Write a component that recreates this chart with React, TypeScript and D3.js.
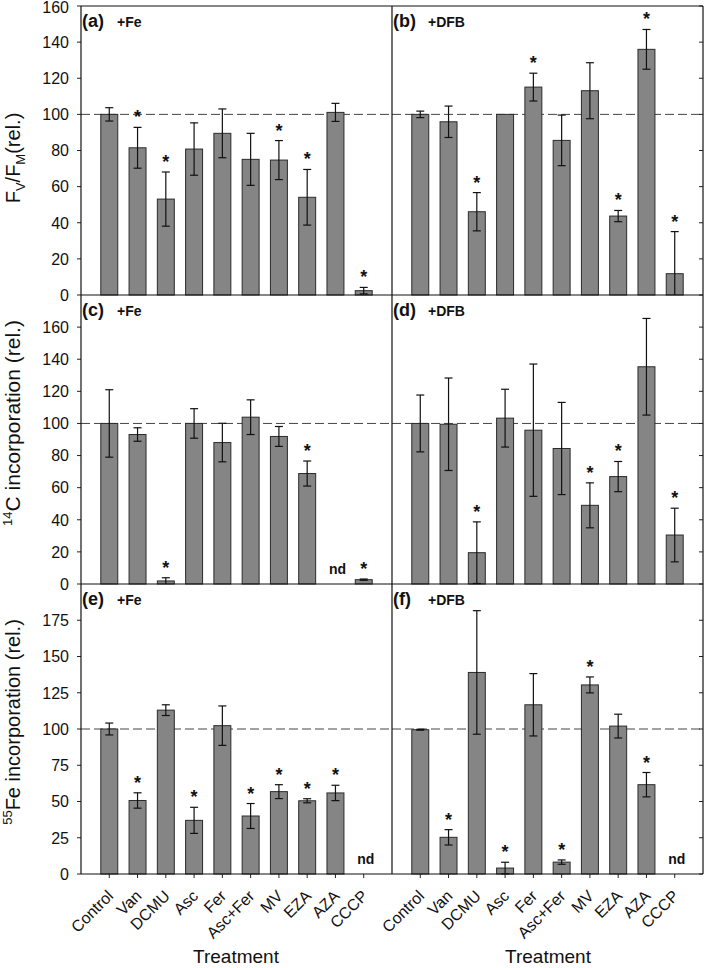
import React from "react";
import * as d3 from "d3";

const categories = ["Control", "Van", "DCMU", "Asc", "Fer", "Asc+Fer", "MV", "EZA", "AZA", "CCCP"];

// (a) Fv/Fm +Fe
const fvfmFe = [100, 81.5, 53.1, 80.8, 89.5, 75.1, 74.7, 54.1, 101.1, 2.4];
const fvfmFeErr = [3.7, 11.3, 15, 14.5, 13.5, 14.4, 10.8, 15.4, 5, 1.8];
const fvfmFeSig = [0, 1, 1, 0, 0, 0, 1, 1, 0, 1];
// (b) Fv/Fm +DFB
const fvfmDfb = [100, 95.9, 46.1, 100, 115.1, 85.6, 113.1, 43.7, 136, 11.8];
const fvfmDfbErr = [1.8, 8.7, 10.6, 0, 7.7, 14, 15.5, 3.1, 11, 23.3];
const fvfmDfbSig = [0, 0, 1, 0, 1, 0, 0, 1, 1, 1];
// (c) 14C +Fe
const c14Fe = [100, 93.1, 1.9, 100, 88.1, 103.9, 91.9, 68.8, null, 2.7];
const c14FeErr = [21, 4.2, 2, 9.2, 12, 10.8, 6.2, 7.8, null, 0.4];
const c14FeSig = [0, 0, 1, 0, 0, 0, 0, 1, 0, 1];
// (d) 14C +DFB
const c14Dfb = [100, 99.5, 19.5, 103.3, 95.8, 84.4, 49, 66.9, 135.3, 30.5];
const c14DfbErr = [17.7, 28.8, 19.2, 18, 41.2, 28.7, 14, 9.4, 30.1, 16.7];
const c14DfbSig = [0, 0, 1, 0, 0, 0, 1, 1, 0, 1];
// (e) 55Fe +Fe
const fe55Fe = [100, 50.7, 113, 37, 102.3, 40, 56.8, 50.5, 55.9, null];
const fe55FeErr = [4.1, 5.3, 3.7, 9, 13.6, 8.6, 4.8, 1.4, 5.3, null];
const fe55FeSig = [0, 1, 0, 1, 0, 1, 1, 1, 1, 0];
// (f) 55Fe +DFB
const fe55Dfb = [99.5, 25.3, 139, 4.1, 116.7, 8.2, 130.4, 102, 61.6, null];
const fe55DfbErr = [0.3, 5.3, 42.6, 4, 21.5, 1.5, 5.5, 8.2, 8.4, null];
const fe55DfbSig = [0, 1, 0, 1, 0, 1, 1, 0, 1, 0];

const ticksFv = [0, 20, 40, 60, 80, 100, 120, 140, 160];
const ticksC = [0, 20, 40, 60, 80, 100, 120, 140, 160];
const ticksFe = [0, 25, 50, 75, 100, 125, 150, 175];

const FONT = "'Liberation Sans', Arial, Helvetica, sans-serif";

const X0 = 81;
const XM = 392;
const X1 = 703;
const rows = [
  { top: 6, bottom: 295, max: 160, ticks: ticksFv },
  { top: 295, bottom: 584, max: 180, ticks: ticksC },
  { top: 584, bottom: 874, max: 200, ticks: ticksFe },
];

type PanelProps = {
  left: number;
  right: number;
  row: number;
  values: (number | null)[];
  errs: (number | null)[];
  sig: number[];
  label: string;
  cond: string;
  side: "left" | "right";
  showX: boolean;
};

function Panel({ left, right, row, values, errs, sig, label, cond, side, showX }: PanelProps) {
  const r = rows[row];
  const x = d3.scaleBand<string>().domain(categories).range([left, right]).paddingInner(0.4).paddingOuter(0.7);
  const y = d3.scaleLinear().domain([0, r.max]).range([r.bottom, r.top]);
  const bw = x.bandwidth();
  const capW = 8;
  return (
    <g>
      {/* dashed reference line */}
      <line x1={left} x2={right} y1={y(100)} y2={y(100)} stroke="#444" strokeWidth={1} strokeDasharray="9,4" />
      {/* bars */}
      {categories.map((c, i) => {
        const v = values[i];
        if (v === null) return null;
        return (
          <rect key={c} x={x(c)!} y={y(v)} width={bw} height={y(0) - y(v)} fill="#858585" stroke="#2b2b2b" strokeWidth={1} />
        );
      })}
      {/* error bars */}
      {categories.map((c, i) => {
        const v = values[i];
        const e = errs[i];
        if (v === null || e === null || e === 0) return null;
        const cx = x(c)! + bw / 2;
        const hi = y(v + e);
        const loV = Math.max(0, v - e);
        const lo = y(loV);
        return (
          <g key={c} stroke="#111" strokeWidth={1.2}>
            <line x1={cx} x2={cx} y1={hi} y2={lo} />
            <line x1={cx - capW / 2} x2={cx + capW / 2} y1={hi} y2={hi} />
            {v - e > 0 && <line x1={cx - capW / 2} x2={cx + capW / 2} y1={lo} y2={lo} />}
          </g>
        );
      })}
      {/* significance / nd */}
      {categories.map((c, i) => {
        const v = values[i];
        const cx = x(c)! + bw / 2;
        if (v === null) {
          return (
            <text key={c} x={cx + 2} y={y(0) - 10} textAnchor="middle" fontFamily={FONT} fontWeight="bold" fontSize={14} fill="#111">
              nd
            </text>
          );
        }
        if (!sig[i]) return null;
        const e = errs[i] || 0;
        const top = y(v + e);
        return (
          <text key={c} x={cx} y={top - 4} textAnchor="middle" fontFamily={FONT} fontWeight="bold" fontSize={18} fill="#111">
            *
          </text>
        );
      })}
      {/* panel label */}
      <text x={left + 1} y={r.top + 21} fontFamily={FONT} fontWeight="bold" fontSize={18} fill="#111">
        {label}
      </text>
      <text x={left + 36} y={r.top + 21} fontFamily={FONT} fontWeight="bold" fontSize={14} fill="#111">
        {cond}
      </text>
      {/* y ticks */}
      {r.ticks.map((t) =>
        side === "left" ? (
          <g key={t}>
            <line x1={left - 4} x2={left} y1={y(t)} y2={y(t)} stroke="#222" strokeWidth={1} />
            <text
              x={left - 12}
              y={Math.max(y(t), 7.5)}
              dy="0.36em"
              textAnchor="end"
              fontFamily={FONT}
              fontSize={16}
              fill="#111"
            >
              {t}
            </text>
          </g>
        ) : (
          <line key={t} x1={right - 4} x2={right} y1={y(t)} y2={y(t)} stroke="#222" strokeWidth={1} />
        )
      )}
      {/* x ticks and labels */}
      {showX &&
        categories.map((c) => {
          const cx = x(c)! + bw / 2;
          return (
            <g key={c}>
              <line x1={cx} x2={cx} y1={r.bottom} y2={r.bottom + 4} stroke="#222" strokeWidth={1} />
              <text
                transform={`translate(${cx + 5},${r.bottom + 23}) rotate(-45)`}
                textAnchor="end"
                fontFamily={FONT}
                fontSize={16}
                fill="#111"
              >
                {c}
              </text>
            </g>
          );
        })}
    </g>
  );
}

export default function App() {
  return (
    <svg
      width={708}
      height={968}
      style={{ position: "absolute", left: 0, top: 0, background: "#fff" }}
      xmlns="http://www.w3.org/2000/svg"
    >
      <rect x={0} y={0} width={708} height={968} fill="#fff" />
      <Panel left={X0} right={XM} row={0} values={fvfmFe} errs={fvfmFeErr} sig={fvfmFeSig} label="(a)" cond="+Fe" side="left" showX={false} />
      <Panel left={XM} right={X1} row={0} values={fvfmDfb} errs={fvfmDfbErr} sig={fvfmDfbSig} label="(b)" cond="+DFB" side="right" showX={false} />
      <Panel left={X0} right={XM} row={1} values={c14Fe} errs={c14FeErr} sig={c14FeSig} label="(c)" cond="+Fe" side="left" showX={false} />
      <Panel left={XM} right={X1} row={1} values={c14Dfb} errs={c14DfbErr} sig={c14DfbSig} label="(d)" cond="+DFB" side="right" showX={false} />
      <Panel left={X0} right={XM} row={2} values={fe55Fe} errs={fe55FeErr} sig={fe55FeSig} label="(e)" cond="+Fe" side="left" showX={true} />
      <Panel left={XM} right={X1} row={2} values={fe55Dfb} errs={fe55DfbErr} sig={fe55DfbSig} label="(f)" cond="+DFB" side="right" showX={true} />

      {/* frame lines */}
      <g stroke="#111" strokeWidth={1.2} fill="none">
        <line x1={X0} x2={X1} y1={6} y2={6} />
        <line x1={X0} x2={X1} y1={295} y2={295} />
        <line x1={X0} x2={X1} y1={584} y2={584} />
        <line x1={X0} x2={X1} y1={874} y2={874} />
        <line x1={X0} x2={X0} y1={6} y2={874} />
        <line x1={XM} x2={XM} y1={6} y2={874} />
        <line x1={X1} x2={X1} y1={6} y2={874} />
      </g>

      {/* y-axis titles */}
      <text transform="translate(20,158) rotate(-90)" textAnchor="middle" fontFamily={FONT} fontSize={20} fill="#111">
        F<tspan fontSize={13} dy={5}>V</tspan>
        <tspan dy={-5}>/F</tspan>
        <tspan fontSize={13} dy={5}>M</tspan>
        <tspan dy={-5}>(rel.)</tspan>
      </text>
      <text transform="translate(20,423) rotate(-90)" textAnchor="middle" fontFamily={FONT} fontSize={21} fill="#111">
        <tspan fontSize={13} dy={-8}>14</tspan>
        <tspan dy={8}>C incorporation (rel.)</tspan>
      </text>
      <text transform="translate(20,722) rotate(-90)" textAnchor="middle" fontFamily={FONT} fontSize={20} fill="#111">
        <tspan fontSize={13} dy={-8}>55</tspan>
        <tspan dy={8}>Fe incorporation (rel.)</tspan>
      </text>

      {/* x-axis titles */}
      <text x={236} y={963} textAnchor="middle" fontFamily={FONT} fontSize={19} fill="#111">
        Treatment
      </text>
      <text x={548} y={963} textAnchor="middle" fontFamily={FONT} fontSize={19} fill="#111">
        Treatment
      </text>
    </svg>
  );
}
